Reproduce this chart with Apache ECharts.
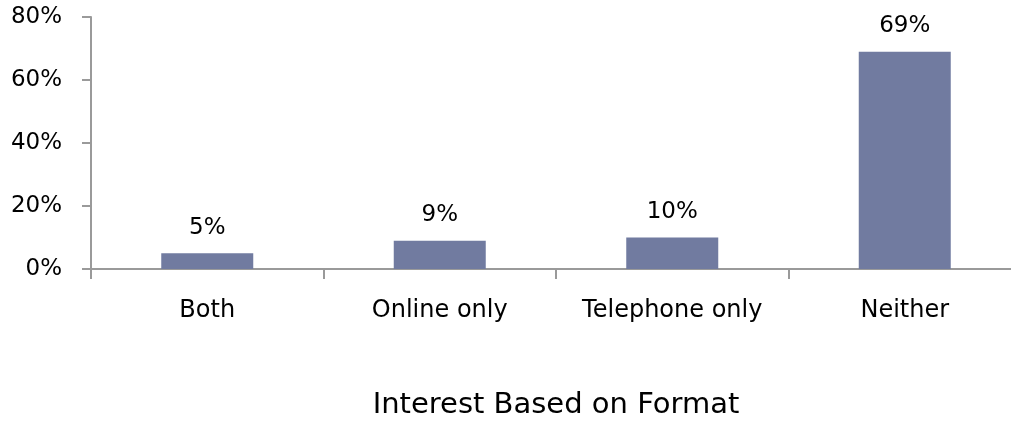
<!DOCTYPE html>
<html>
<head>
<meta charset="utf-8">
<script src="https://cdn.jsdelivr.net/npm/echarts@6/dist/echarts.min.js"></script>
<style>
  html, body { margin: 0; padding: 0; background: #fff; }
  #chart { width: 1011px; height: 421px; }
</style>
</head>
<body>
<div id="chart"></div>
<script>
var categories = ['Both', 'Online only', 'Telephone only', 'Neither'];
var values = [5, 9, 10, 69];
var yTicks = [0, 20, 40, 60, 80];

var font = '"Comic Sans MS", "DejaVu Sans", sans-serif';
var axisColor = '#9a9a9a';

var chart = echarts.init(document.getElementById('chart'));
chart.setOption({
    animation: false,
    textStyle: { fontFamily: font },
    // axis runs past the right edge, like the original
    grid: { left: 91, top: 17, height: 252, width: 930, outerBoundsMode: 'none', containLabel: false },
    xAxis: {
        type: 'category',
        data: categories,
        name: 'Interest Based on Format',
        nameLocation: 'middle',
        nameGap: 122,
        nameTextStyle: { fontSize: 29, color: '#000', fontFamily: font },
        axisLine: { lineStyle: { color: axisColor, width: 2 } },
        axisTick: { show: true, length: 10, alignWithLabel: false, lineStyle: { color: axisColor, width: 2 } },
        axisLabel: { fontSize: 24, color: '#000', margin: 30, interval: 0, fontFamily: font }
    },
    yAxis: {
        type: 'value',
        min: yTicks[0],
        max: yTicks[yTicks.length - 1],
        interval: 20,
        splitLine: { show: false },
        axisLine: { show: true, lineStyle: { color: axisColor, width: 2 } },
        axisTick: { show: true, length: 9, lineStyle: { color: axisColor, width: 2 } },
        axisLabel: { fontSize: 23, color: '#000', margin: 29, formatter: '{value}%', fontFamily: font }
    },
    series: [{
        type: 'bar',
        data: values,
        barWidth: 92,
        itemStyle: { color: '#717ba0' },
        label: {
            show: true,
            position: 'top',
            distance: 14,
            formatter: '{c}%',
            fontSize: 23,
            color: '#000',
            fontFamily: font
        }
    }]
});
</script>
</body>
</html>
